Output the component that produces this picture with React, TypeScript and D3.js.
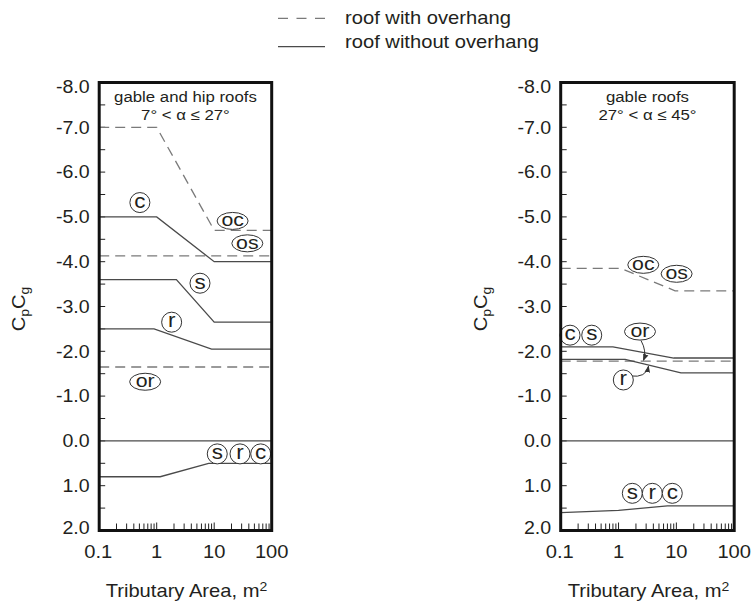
import React from 'react';
import * as d3 from 'd3';

type Pt = [number, number];

const W = 753;
const H = 603;
const SX = 1.12; // horizontal glyph stretch used for all lettering
const FONT = "'Liberation Sans', Arial, Helvetica, sans-serif";
const INK = '#231f20';
const SOLID = '#4a4a4a';
const DASHED = '#7a7a7a';

const TOP = 82.5;
const BOTTOM = 530.5;

// Axis ticks
const areaTickValues = [0.1, 1, 10, 100];
const areaTickLabels = ['0.1', '1', '10', '100'];
const cpcgTickValues = [-8, -7, -6, -5, -4, -3, -2, -1, 0, 1, 2];

// Gable and hip roofs, 7° < α ≤ 27°  ([tributary area m², CpCg])
const lowC: Pt[] = [[0.1, -5.0], [1, -5.0], [10, -4.0], [100, -4.0]];
const lowS: Pt[] = [[0.1, -3.6], [2.2, -3.6], [10, -2.65], [100, -2.65]];
const lowR: Pt[] = [[0.1, -2.5], [0.9, -2.5], [9, -2.05], [100, -2.05]];
const lowOC: Pt[] = [[0.1, -7.0], [1, -7.0], [10, -4.7], [100, -4.7]];
const lowOS: Pt[] = [[0.1, -4.13], [100, -4.13]];
const lowOR: Pt[] = [[0.1, -1.65], [100, -1.65]];
const lowPositive: Pt[] = [[0.1, 0.8], [1.15, 0.8], [8, 0.5], [100, 0.5]];

// Gable roofs, 27° < α ≤ 45°
const steepCS: Pt[] = [[0.1, -2.1], [0.8, -2.1], [9, -1.85], [100, -1.85]];
const steepR: Pt[] = [[0.1, -1.82], [1.3, -1.82], [12, -1.52], [100, -1.52]];
const steepOC: Pt[] = [[0.1, -3.85], [1.1, -3.85], [9.5, -3.35], [100, -3.35]];
const steepOR: Pt[] = [[0.1, -1.78], [100, -1.78]];
const steepPositive: Pt[] = [[0.1, 1.6], [1, 1.55], [7, 1.45], [100, 1.45]];

const zeroLine: Pt[] = [[0.1, 0], [100, 0]];

type Series = { pts: Pt[]; dashed: boolean };
type Tag = { text: string; at: Pt };
type Pointer = { from: Pt; ctrl: Pt; to: Pt };

// Zone tags placed in data coordinates
const lowTags: Tag[] = [
  { text: 'c', at: [0.51, -5.32] },
  { text: 'oc', at: [20.9, -4.91] },
  { text: 'os', at: [37.7, -4.41] },
  { text: 's', at: [5.66, -3.52] },
  { text: 'r', at: [1.82, -2.65] },
  { text: 'or', at: [0.63, -1.32] },
  { text: 's', at: [11.3, 0.29] },
  { text: 'r', at: [28.1, 0.29] },
  { text: 'c', at: [64.4, 0.29] },
];

const steepTags: Tag[] = [
  { text: 'oc', at: [2.68, -3.93] },
  { text: 'os', at: [10.1, -3.73] },
  { text: 'c', at: [0.145, -2.36] },
  { text: 's', at: [0.344, -2.36] },
  { text: 'or', at: [2.35, -2.44] },
  { text: 'r', at: [1.21, -1.36] },
  { text: 's', at: [1.73, 1.17] },
  { text: 'r', at: [3.84, 1.17] },
  { text: 'c', at: [8.5, 1.17] },
];

const steepPointers: Pointer[] = [
  { from: [2.45, -2.24], ctrl: [3.1, -2.0], to: [2.7, -1.8] },
  { from: [1.6, -1.45], ctrl: [3.0, -1.4], to: [3.3, -1.67] },
];

function Txt(props: {
  x: number; y: number; anchor?: string; size?: number; rotate?: number;
  children: React.ReactNode; fill?: string;
}) {
  const { x, y, anchor = 'start', size = 17.5, rotate = 0, children, fill = INK } = props;
  return (
    <text
      transform={`translate(${x},${y})${rotate ? ` rotate(${rotate})` : ''} scale(${SX},1)`}
      textAnchor={anchor as any}
      fontSize={size}
      fontFamily={FONT}
      fill={fill}
    >
      {children}
    </text>
  );
}

function Panel(props: {
  id: string; left: number; right: number; labelX: number;
  title: string; subtitle: string; series: Series[]; tags: Tag[]; pointers?: Pointer[];
}) {
  const { id, left, right, labelX, title, subtitle, series, tags, pointers = [] } = props;
  const x = d3.scaleLog().domain([0.1, 100]).range([left, right]);
  const y = d3.scaleLinear().domain([-8, 2]).range([TOP, BOTTOM]);
  const line = d3.line<Pt>().x((d) => x(d[0])).y((d) => y(d[1]));
  const minorY = d3.range(-7.5, 1.75, 0.5);
  const minorX = x.ticks().filter((t) => t > 0.1 + 1e-9 && t < 100 - 1e-9);
  const cx = (left + right) / 2;
  const fmt = (v: number) => d3.format('.1f')(v).replace('\u2212', '-');

  return (
    <g>
      <defs>
        <marker id={`${id}-arrow`} viewBox="0 0 10 10" refX="9" refY="5" markerWidth="7" markerHeight="7" orient="auto">
          <path d="M0,1 L10,5 L0,9 z" fill="#333" />
        </marker>
      </defs>

      {/* tick marks inside the frame */}
      {minorY.map((v) => (
        <line key={`ty${v}`} x1={left} x2={left + 6} y1={y(v)} y2={y(v)} stroke="#222" strokeWidth={1} />
      ))}
      {minorX.map((t) => {
        const decade = Math.abs(Math.log10(t) - Math.round(Math.log10(t))) < 1e-6;
        return (
          <line key={`tx${t}`} x1={x(t)} x2={x(t)} y1={BOTTOM} y2={BOTTOM - (decade ? 8 : 7)} stroke="#222" strokeWidth={1} />
        );
      })}

      {/* curves */}
      {series.map((s, i) => (
        <path
          key={i}
          d={line(s.pts) || ''}
          fill="none"
          stroke={s.dashed ? DASHED : SOLID}
          strokeWidth={1.3}
          strokeDasharray={s.dashed ? '10 6' : undefined}
        />
      ))}

      {/* pointer arrows */}
      {pointers.map((p, i) => (
        <path
          key={`p${i}`}
          d={`M${x(p.from[0])},${y(p.from[1])} Q${x(p.ctrl[0])},${y(p.ctrl[1])} ${x(p.to[0])},${y(p.to[1])}`}
          fill="none"
          stroke="#333"
          strokeWidth={1}
          markerEnd={`url(#${id}-arrow)`}
        />
      ))}

      {/* zone tags */}
      {tags.map((t, i) => {
        const px = x(t.at[0]);
        const py = y(t.at[1]);
        const wide = t.text.length > 1;
        return (
          <g key={`t${i}`}>
            {wide ? (
              <ellipse cx={px} cy={py} rx={15.5} ry={8.5} fill="white" stroke="#333" strokeWidth={1} />
            ) : (
              <ellipse cx={px} cy={py} rx={10} ry={10} fill="white" stroke="#333" strokeWidth={1} />
            )}
            <Txt x={px} y={py + 5.3} anchor="middle" size={wide ? 19 : 20}>{t.text}</Txt>
          </g>
        );
      })}

      {/* frame */}
      <rect x={left} y={TOP} width={right - left} height={BOTTOM - TOP} fill="none" stroke="#111" strokeWidth={3} />

      {/* titles */}
      <Txt x={cx} y={102} anchor="middle" size={15}>{title}</Txt>
      <Txt x={cx} y={120} anchor="middle" size={15}>{subtitle}</Txt>

      {/* y tick labels */}
      {cpcgTickValues.map((v) => {
        const cy = Math.min(Math.max(y(v), 86.5), 527.5);
        return (
          <Txt key={`yl${v}`} x={left - 9.5} y={cy + 6.3} anchor="end" size={17.5}>{fmt(v)}</Txt>
        );
      })}

      {/* x tick labels */}
      {areaTickValues.map((v, i) => (
        <Txt key={`xl${v}`} x={x(v) - (i === 0 ? 1 : 0)} y={558} anchor="middle" size={18}>{areaTickLabels[i]}</Txt>
      ))}

      {/* axis titles */}
      <Txt x={cx + 1} y={596.5} anchor="middle" size={18}>
        Tributary Area, m
        <tspan fontSize={12.5} dy={-6}>2</tspan>
      </Txt>
      <Txt x={labelX} y={309} anchor="middle" size={18} rotate={-90}>
        C<tspan fontSize={12.5} dy={4}>p</tspan>
        <tspan dy={-4}>C</tspan>
        <tspan fontSize={12.5} dy={4}>g</tspan>
      </Txt>
    </g>
  );
}

export default function App() {
  const lowSeries: Series[] = [
    { pts: lowOC, dashed: true },
    { pts: lowOS, dashed: true },
    { pts: lowOR, dashed: true },
    { pts: lowC, dashed: false },
    { pts: lowS, dashed: false },
    { pts: lowR, dashed: false },
    { pts: zeroLine, dashed: false },
    { pts: lowPositive, dashed: false },
  ];
  const steepSeries: Series[] = [
    { pts: steepOC, dashed: true },
    { pts: steepOR, dashed: true },
    { pts: steepCS, dashed: false },
    { pts: steepR, dashed: false },
    { pts: zeroLine, dashed: false },
    { pts: steepPositive, dashed: false },
  ];

  return (
    <svg width={W} height={H} viewBox={`0 0 ${W} ${H}`} style={{ position: 'absolute', left: 0, top: 0, background: 'white' }}>
      <rect width={W} height={H} fill="white" />

      {/* legend */}
      <line x1={278} x2={325} y1={18.3} y2={18.3} stroke={DASHED} strokeWidth={1.3} strokeDasharray="10 8.5" />
      <Txt x={345} y={24} size={18}>roof with overhang</Txt>
      <line x1={278} x2={325} y1={46.7} y2={46.7} stroke={SOLID} strokeWidth={1.3} />
      <Txt x={345} y={47.5} size={18}>roof without overhang</Txt>

      <Panel
        id="low"
        left={99.2}
        right={271.7}
        labelX={25}
        title="gable and hip roofs"
        subtitle="7° < α ≤ 27°"
        series={lowSeries}
        tags={lowTags}
      />
      <Panel
        id="steep"
        left={560.7}
        right={734.2}
        labelX={486.5}
        title="gable roofs"
        subtitle="27° < α ≤ 45°"
        series={steepSeries}
        tags={steepTags}
        pointers={steepPointers}
      />
    </svg>
  );
}
